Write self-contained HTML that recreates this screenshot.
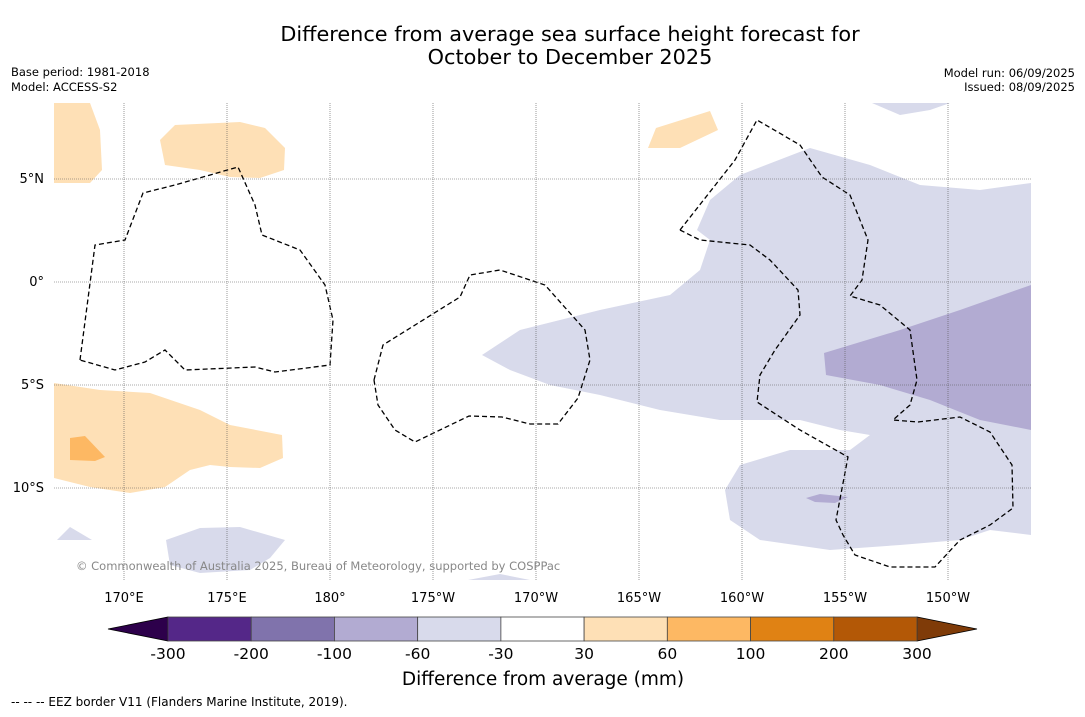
<!DOCTYPE html>
<html><head><meta charset="utf-8">
<style>
body{margin:0;background:#fff;font-family:"DejaVu Sans","Liberation Sans",sans-serif;}
svg text{font-family:"DejaVu Sans","Liberation Sans",sans-serif;}
</style></head>
<body>
<svg width="1085" height="713" viewBox="0 0 1085 713">
<rect width="1085" height="713" fill="#fff"/>
<text x="570" y="41" font-size="20.8" text-anchor="middle">Difference from average sea surface height forecast for</text>
<text x="570" y="64" font-size="20.8" text-anchor="middle">October to December 2025</text>
<text x="11" y="76" font-size="11.5">Base period: 1981-2018</text>
<text x="11" y="91" font-size="11.5">Model: ACCESS-S2</text>
<text x="1075" y="77" font-size="11.5" text-anchor="end">Model run: 06/09/2025</text>
<text x="1075" y="91" font-size="11.5" text-anchor="end">Issued: 08/09/2025</text>

<g>
<clipPath id="mc"><rect x="54" y="103" width="977" height="477"/></clipPath>
<g clip-path="url(#mc)">
<polygon fill="#d8daeb" points="482,355 520,330 600,310 670,295 700,270 710,240 697,230 710,200 740,175 810,148 870,165 920,185 980,190 1031,183 1031,535 990,530 960,540 900,545 830,550 760,540 730,520 725,490 740,465 790,450 850,450 870,435 840,430 800,420 720,420 660,410 600,395 550,385 510,370"/>
<polygon fill="#b2abd2" points="824,353 900,330 960,310 1031,285 1031,430 980,420 930,400 880,385 826,375"/>
<polygon fill="#b2abd2" points="806,498 820,494 848,497 835,503 815,502"/>
<polygon fill="#d8daeb" points="872,103 950,103 930,110 900,115"/>
<polygon fill="#d8daeb" points="166,540 200,528 240,527 285,540 270,558 250,570 200,573 170,565"/>
<polygon fill="#d8daeb" points="57,540 70,527 92,540"/>
<polygon fill="#d8daeb" points="468,580 500,574 530,580"/>
<polygon fill="#fee0b6" points="54,103 90,103 100,130 102,170 90,183 54,183"/>
<polygon fill="#fee0b6" points="160,140 175,125 240,122 265,128 285,148 284,170 260,178 230,177 200,170 165,165"/>
<polygon fill="#fee0b6" points="656,128 710,111 718,130 680,148 648,148"/>
<polygon fill="#fee0b6" points="54,383 100,390 150,393 200,410 230,425 282,435 283,458 260,468 230,467 210,465 190,470 165,487 130,493 90,487 54,478"/>
<polygon fill="#fdb863" points="70,438 85,436 105,457 95,461 70,460"/>
<g fill="none" stroke="#000" stroke-width="1.3" stroke-dasharray="5,3">
<polyline points="80,360 95,245 125,240 143,193 175,185 238,167 255,205 262,235 300,250 325,285 333,320 330,365 275,372 255,367 185,370 165,350 145,362 115,370 80,360"/>
<polyline points="374,380 383,345 460,297 470,275 500,270 545,285 585,330 590,360 578,398 558,424 530,424 502,417 469,416 415,442 395,430 378,405 374,380"/>
<polyline points="680,230 735,160 757,120 800,145 822,177 850,195 868,240 862,280 850,296 880,305 910,330 917,380 910,405 893,420 918,422 960,417 990,432 1012,465 1013,508 990,525 960,540 935,567 890,567 855,555 843,535 836,520 848,457 800,430 757,402 760,375 775,350 800,315 798,290 770,260 750,245 700,240 680,230"/>
</g>
</g>
<g id="grid" stroke="#555" stroke-width="0.6" stroke-dasharray="1,1"></g>
<g id="labels" font-size="13"></g>
<text x="76" y="570" font-size="11.5" fill="#888">© Commonwealth of Australia 2025, Bureau of Meteorology, supported by COSPPac</text>
</g>

<g id="cbar"></g>
<text x="543" y="685" font-size="18.5" text-anchor="middle">Difference from average (mm)</text>
<text x="11" y="706" font-size="12">--  --  -- EEZ border V11 (Flanders Marine Institute, 2019).</text>
</svg>
<script>
const lonTicks=[170,175,180,185,190,195,200,205,210];
const lonLabels=["170°E","175°E","180°","175°W","170°W","165°W","160°W","155°W","150°W"];
const latTicks=[5,0,-5,-10];
const latLabels=["5°N","0°","5°S","10°S"];
const binEdges=["-300","-200","-100","-60","-30","30","60","100","200","300"];
const binColors=["#542788","#8073ac","#b2abd2","#d8daeb","#ffffff","#fee0b6","#fdb863","#e08214","#b35806"];
const ns="http://www.w3.org/2000/svg";
const xL=lon=>124+(lon-170)*20.6, yL=lat=>282-lat*20.6;
const grid=document.getElementById('grid'), lab=document.getElementById('labels');
function mk(t,a,p){const e=document.createElementNS(ns,t);for(const k in a)e.setAttribute(k,a[k]);p.appendChild(e);return e;}
lonTicks.forEach((lon,i)=>{
 const l=mk('line',{x1:xL(lon),x2:xL(lon),y1:103,y2:580},grid);
 
 
 const t=mk('text',{x:xL(lon),y:602,'text-anchor':'middle'},lab);t.textContent=lonLabels[i];
 
 
});
latTicks.forEach((lat,i)=>{
 const l=mk('line',{x1:54,x2:1031,y1:yL(lat),y2:yL(lat)},grid);
 
 
 const t=mk('text',{x:44,y:yL(lat)+4,'text-anchor':'end'},lab);t.textContent=latLabels[i];
 
 
});
const cb=document.getElementById('cbar');
const x0=168,x1=917,y0=617,h=24,w=(x1-x0)/binColors.length;
const lt=mk('polygon',{points:`108,629 ${x0},${y0} ${x0},${y0+h}`,fill:'#2d004b',stroke:'#000','stroke-width':0.8},cb);


const rt=mk('polygon',{points:`977,629 ${x1},${y0} ${x1},${y0+h}`,fill:'#7f3b08',stroke:'#000','stroke-width':0.8},cb);


binColors.forEach((c,i)=>{
 const r=mk('rect',{x:x0+i*w,y:y0,width:w,height:h,fill:c,stroke:'#444','stroke-width':0.8},cb);
 
 
});
binEdges.forEach((v,i)=>{
 const t=mk('text',{x:x0+i*w,y:659,'text-anchor':'middle','font-size':15.5},cb);t.textContent=v;
 
 
});
</script>
</body></html>
